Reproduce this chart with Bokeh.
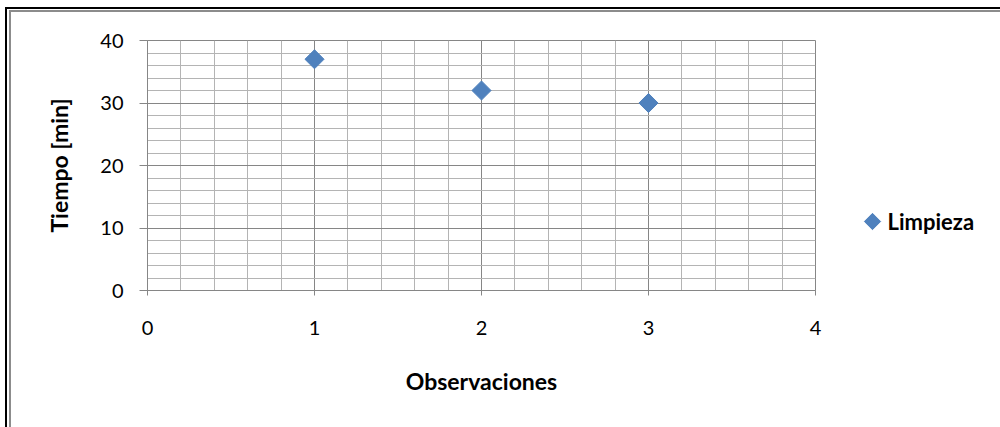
from bokeh.plotting import figure
from bokeh.models import SingleIntervalTicker, Range1d, InlineStyleSheet
from bokeh.layouts import row
from bokeh.core.properties import value
from bokeh.embed import file_html
from bokeh.resources import INLINE
import math

# data
observaciones = [1, 2, 3]
tiempo_min = [37, 32, 30]
series_name = "Limpieza"
x_title = "Observaciones"
y_title = "Tiempo [min]"

FONT = "Lato"
BLUE = "#4F81BD"

p = figure(width=830, height=427, output_backend="svg", toolbar_location=None,
           x_range=Range1d(0, 4), y_range=Range1d(0, 40),
           min_border_left=147, min_border_right=15,
           min_border_top=40, min_border_bottom=137)
p.background_fill_color = "white"
p.border_fill_color = "white"
p.outline_line_color = "#868686"
p.outline_line_width = 1

r = p.scatter(observaciones, tiempo_min, marker="square", size=13.5,
              angle=math.pi / 4, fill_color=BLUE, line_color=BLUE)

# axes
p.xaxis.ticker = SingleIntervalTicker(interval=1, num_minor_ticks=5)
p.yaxis.ticker = SingleIntervalTicker(interval=10, num_minor_ticks=5)
for ax in (p.xaxis[0], p.yaxis[0]):
    ax.axis_line_color = "#868686"
    ax.major_tick_line_color = "#868686"
    ax.major_tick_in = 0
    ax.minor_tick_line_color = None
    ax.major_label_text_font = FONT
    ax.major_label_text_font_size = "20px"
    ax.major_label_text_color = "#000000"
    ax.axis_label_text_font = FONT
    ax.axis_label_text_font_style = "bold"
    ax.axis_label_text_font_size = "23px"
    ax.axis_label_text_color = "#000000"
p.xaxis.major_tick_out = 5
p.yaxis.major_tick_out = 8
p.xaxis.major_label_standoff = 25
p.yaxis.major_label_standoff = 16
p.xaxis.axis_label = x_title
p.yaxis.axis_label = y_title
p.xaxis.axis_label_standoff = 29
p.yaxis.axis_label_standoff = 24

# grid
for g in (p.xgrid[0], p.ygrid[0]):
    g.grid_line_color = "#868686"
    g.grid_line_width = 1
    g.minor_grid_line_color = "#b4b4b4"
    g.minor_grid_line_width = 1

# legend panel: small figure whose frame is aligned with the main plot frame
# (pixel units measured from the frame's bottom-left corner)
lf = figure(width=170, height=427, output_backend="svg", toolbar_location=None,
            x_range=Range1d(0, 170), y_range=Range1d(0, 250),
            x_axis_location=None, y_axis_location=None,
            min_border=0)
lf.grid.visible = False
lf.outline_line_color = None
lf.background_fill_color = "white"
lf.border_fill_color = "white"
lf.scatter([42], [69], marker="square", size=11.5, angle=math.pi / 4,
           fill_color=BLUE, line_color=BLUE)
lf.text([57], [69], text=[series_name], text_baseline="middle",
        text_align="left", text_font=value(FONT), text_font_style="bold",
        text_font_size="22px", text_color="#000000")

layout = row(p, lf, spacing=0)

# outer chart-area border (black + gray lines on left and top)
layout.stylesheets = [InlineStyleSheet(css="""
:host { position: relative; }
:host::before {
  content: ""; position: absolute; left: 5px; top: 7px; right: -20px; bottom: -20px;
  border-left: 2px solid #000000; border-top: 2px solid #000000;
  pointer-events: none; z-index: 10;
}
:host::after {
  content: ""; position: absolute; left: 9px; top: 10px; right: -20px; bottom: -20px;
  border-left: 2px solid #8c8c8c; border-top: 2px solid #8c8c8c;
  pointer-events: none; z-index: 10;
}
""")]

open("out.html", "w").write(file_html(layout, INLINE))
